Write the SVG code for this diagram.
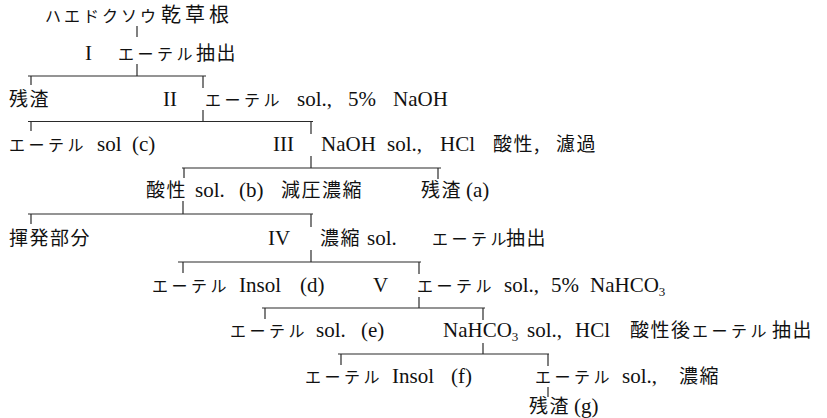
<svg xmlns="http://www.w3.org/2000/svg" width="827" height="418" viewBox="0 0 827 418">
<style>
text { font-family: "Liberation Serif", "Noto Sans CJK JP", serif; font-size: 21px; fill: #111111; }
.k { font-family: "Noto Sans CJK JP", sans-serif; font-size: 16px; letter-spacing: 3.5px; }
.j { font-family: "Noto Sans CJK JP", sans-serif; font-size: 19px; letter-spacing: 1.5px; }
.s { font-size: 13px; }
#connectors line { stroke: #2a2a2a; stroke-width: 1.2; fill: none; }
</style>
<rect width="827" height="418" fill="#ffffff"/>
<g id="connectors">
<line x1="137" y1="26" x2="137" y2="37"/>
<line x1="137" y1="64" x2="137" y2="76"/>
<line x1="28" y1="76" x2="206" y2="76"/>
<line x1="31" y1="76" x2="31" y2="85"/>
<line x1="203" y1="76" x2="203" y2="88"/>
<line x1="203" y1="110" x2="203" y2="121.5"/>
<line x1="28" y1="121.5" x2="313" y2="121.5"/>
<line x1="31" y1="121.5" x2="31" y2="131"/>
<line x1="311" y1="121.5" x2="311" y2="134"/>
<line x1="311" y1="156" x2="311" y2="168"/>
<line x1="182" y1="168" x2="441" y2="168"/>
<line x1="184" y1="168" x2="184" y2="178"/>
<line x1="438" y1="168" x2="438" y2="179"/>
<line x1="183" y1="201" x2="183" y2="214"/>
<line x1="28" y1="214" x2="313" y2="214"/>
<line x1="31" y1="214" x2="31" y2="224"/>
<line x1="311" y1="214" x2="311" y2="227"/>
<line x1="311" y1="250" x2="311" y2="262"/>
<line x1="178" y1="262" x2="421" y2="262"/>
<line x1="183" y1="262" x2="183" y2="273"/>
<line x1="419" y1="262" x2="419" y2="274"/>
<line x1="419" y1="297" x2="419" y2="308"/>
<line x1="262" y1="308" x2="485" y2="308"/>
<line x1="265" y1="308" x2="265" y2="319"/>
<line x1="483" y1="308" x2="483" y2="320"/>
<line x1="483" y1="343" x2="483" y2="354"/>
<line x1="338" y1="354" x2="549" y2="354"/>
<line x1="341" y1="354" x2="341" y2="365"/>
<line x1="548" y1="354" x2="548" y2="366"/>
<line x1="548" y1="387" x2="548" y2="397"/>
</g>
<g id="n-root"><text x="45" y="22"><tspan class="k" style="letter-spacing:3px">ハエドクソウ</tspan><tspan class="j" x="161" style="font-size:20px;letter-spacing:4px">乾草根</tspan></text></g>
<g id="n-I-label"><text x="85" y="60">I</text></g>
<g id="n-I"><text x="118" y="60"><tspan class="k">エーテル</tspan><tspan class="j" x="196">抽出</tspan></text></g>
<g id="n-residue1"><text x="9" y="106"><tspan class="j">残渣</tspan></text></g>
<g id="n-II-label"><text x="163" y="106">II</text></g>
<g id="n-II"><text x="205" y="106"><tspan class="k">エーテル</tspan><tspan x="297">sol.,</tspan><tspan x="348">5%</tspan><tspan x="393">NaOH</tspan></text></g>
<g id="n-c"><text x="9" y="151"><tspan class="k">エーテル</tspan><tspan x="97">sol</tspan><tspan x="132">(c)</tspan></text></g>
<g id="n-III-label"><text x="273" y="151">III</text></g>
<g id="n-III"><text x="321" y="151"><tspan>NaOH</tspan><tspan x="387">sol.,</tspan><tspan x="440">HCl</tspan><tspan class="j" x="493">酸性,</tspan><tspan class="j" x="556">濾過</tspan></text></g>
<g id="n-b"><text x="146" y="197"><tspan class="j">酸性</tspan><tspan x="195">sol.</tspan><tspan x="239">(b)</tspan><tspan class="j" x="281">減圧濃縮</tspan></text></g>
<g id="n-a"><text x="421" y="197"><tspan class="j">残渣</tspan><tspan x="466">(a)</tspan></text></g>
<g id="n-volatile"><text x="9" y="245"><tspan class="j">揮発部分</tspan></text></g>
<g id="n-IV-label"><text x="268" y="245">IV</text></g>
<g id="n-IV"><text x="320" y="245"><tspan class="j">濃縮</tspan><tspan x="367">sol.</tspan><tspan class="k" x="432">エーテル</tspan><tspan class="j" x="506">抽出</tspan></text></g>
<g id="n-d"><text x="152" y="292"><tspan class="k">エーテル</tspan><tspan x="239">Insol</tspan><tspan x="300">(d)</tspan></text></g>
<g id="n-V-label"><text x="373" y="292">V</text></g>
<g id="n-V"><text x="417" y="292"><tspan class="k">エーテル</tspan><tspan x="504">sol.,</tspan><tspan x="551">5%</tspan><tspan x="590">NaHCO</tspan><tspan class="s" dy="4">3</tspan></text></g>
<g id="n-e"><text x="230" y="337"><tspan class="k">エーテル</tspan><tspan x="316">sol.</tspan><tspan x="361">(e)</tspan></text></g>
<g id="n-NaHCO3"><text x="443" y="337"><tspan>NaHCO</tspan><tspan class="s" dy="4">3</tspan><tspan x="527" y="337">sol.,</tspan><tspan x="575">HCl</tspan><tspan class="j" x="630">酸性後</tspan><tspan class="k" x="692" style="letter-spacing:3.5px">エーテル</tspan><tspan class="j" x="772">抽出</tspan></text></g>
<g id="n-f"><text x="305" y="383"><tspan class="k">エーテル</tspan><tspan x="392">Insol</tspan><tspan x="451">(f)</tspan></text></g>
<g id="n-ether-sol"><text x="535" y="383"><tspan class="k">エーテル</tspan><tspan x="622">sol.,</tspan><tspan class="j" x="679">濃縮</tspan></text></g>
<g id="n-g"><text x="529" y="413"><tspan class="j">残渣</tspan><tspan x="574">(g)</tspan></text></g>
</svg>
